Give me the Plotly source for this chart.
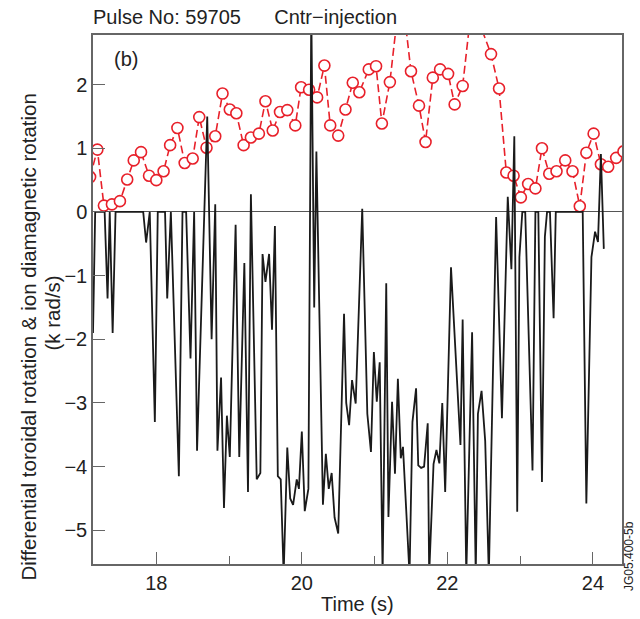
import plotly.graph_objects as go

# Red series: ion diamagnetic rotation (sampled every ~0.1 s)
red_t = [17.09, 17.19, 17.28, 17.39, 17.50, 17.60, 17.69, 17.79, 17.90, 18.00, 18.10,
         18.19, 18.29, 18.39, 18.50, 18.59, 18.69, 18.81, 18.91, 19.01, 19.10, 19.20,
         19.30, 19.41, 19.50, 19.60, 19.70, 19.80, 19.91, 19.99, 20.10, 20.21, 20.31,
         20.39, 20.50, 20.60, 20.70, 20.79, 20.92, 21.02, 21.10, 21.21, 21.31, 21.41,
         21.50, 21.61, 21.70, 21.80, 21.90, 22.01, 22.10, 22.21, 22.31, 22.43, 22.60,
         22.71, 22.81, 22.91, 23.01, 23.11, 23.21, 23.30, 23.40, 23.50, 23.62, 23.72,
         23.82, 23.91, 24.01, 24.11, 24.21, 24.32, 24.42]
red_v = [0.55, 0.98, 0.10, 0.12, 0.17, 0.51, 0.81, 0.94, 0.57, 0.50, 0.64,
         1.05, 1.32, 0.77, 0.84, 1.49, 1.01, 1.19, 1.86, 1.61, 1.55, 1.05,
         1.17, 1.23, 1.74, 1.28, 1.57, 1.60, 1.36, 1.96, 1.92, 1.80, 2.30,
         1.36, 1.20, 1.61, 2.03, 1.88, 2.24, 2.29, 1.39, 2.04, 3.05, 3.10,
         2.21, 1.67, 1.10, 2.11, 2.24, 2.17, 1.69, 1.98, 3.00, 3.00, 2.48,
         1.94, 0.62, 0.57, 0.23, 0.44, 0.37, 1.00, 0.60, 0.64, 0.81, 0.64,
         0.09, 0.93, 1.23, 0.75, 0.71, 0.85, 0.95]

# Black series: differential toroidal rotation
blk_t = [17.13, 17.16, 17.29, 17.33, 17.36, 17.40, 17.44, 17.82, 17.86, 17.91, 17.98,
         18.02, 18.12, 18.15, 18.20, 18.31, 18.36, 18.41, 18.47, 18.52, 18.56, 18.70,
         18.76, 18.81, 18.84, 18.89, 18.93, 18.97, 19.01, 19.09, 19.14, 19.21, 19.26,
         19.30, 19.38, 19.43, 19.46, 19.50, 19.55, 19.59, 19.63, 19.67, 19.71, 19.75,
         19.80, 19.84, 19.88, 19.93, 19.96, 20.00, 20.04, 20.09, 20.13, 20.17, 20.20,
         20.29, 20.33, 20.37, 20.41, 20.45, 20.50, 20.58, 20.61, 20.65, 20.69, 20.74,
         20.83, 20.90, 20.95, 20.99, 21.03, 21.07, 21.11, 21.16, 21.19, 21.24, 21.28,
         21.32, 21.36, 21.39, 21.48, 21.52, 21.57, 21.60, 21.64, 21.68, 21.73, 21.75,
         21.81, 21.85, 21.89, 21.93, 21.97, 22.05, 22.18, 22.21, 22.26, 22.34, 22.39,
         22.42, 22.47, 22.52, 22.57, 22.67, 22.75, 22.83, 22.88, 22.92, 22.96, 22.99,
         23.03, 23.07, 23.17, 23.21, 23.25, 23.30, 23.34, 23.37, 23.41, 23.46, 23.49,
         23.86, 23.91, 23.98, 24.03, 24.07, 24.11, 24.15]
blk_v = [-1.90, 0.00, 0.00, -1.36, 0.00, -1.90, 0.00, 0.00, -0.48, 0.00, -3.30,
         0.00, 0.00, -1.36, 0.00, -4.15, 0.00, 0.00, -2.30, 0.00, -3.75, 1.50,
         -2.00, 0.12, -3.75, -2.60, -4.65, -3.20, -3.85, -0.20, -3.85, -0.80, -4.40,
         0.28, -4.20, -4.10, -0.66, -1.10, -0.66, -1.85, -0.22, -4.15, -4.20, -5.70,
         -3.70, -4.50, -4.60, -4.20, -4.35, -3.45, -4.70, -4.35, 3.20, -1.50, 0.95,
         -4.60, -3.80, -4.35, -4.10, -4.80, -5.05, -1.60, -3.00, -3.35, -2.64, -3.01,
         0.05, -3.17, -3.77, -2.20, -2.98, -2.36, -5.70, -1.12, -4.79, -2.98, -4.11,
         -2.62, -3.87, -3.69, -5.70, -3.30, -2.77, -3.98, -4.02, -4.00, -3.32, -5.70,
         -3.96, -3.74, -3.95, -3.00, -4.40, -0.87, -3.66, -1.69, -5.70, -1.89, -5.70,
         -3.17, -2.81, -3.60, -5.70, -0.08, -3.24, 0.24, -0.90, 1.19, -4.71, -0.71,
         0.00, 0.00, -4.06, 0.00, 0.00, -4.24, -0.39, 0.00, 0.00, -1.67, 0.00,
         0.00, -4.58, -0.71, -0.31, -0.47, 0.91, -0.58]

x_ticks = [18, 20, 22, 24]
y_ticks = [-5, -4, -3, -2, -1, 0, 1, 2]

FONT = "Liberation Sans, Arial, sans-serif"
TXT = "#222222"

fig = go.Figure()
fig.add_trace(go.Scatter(
    x=red_t, y=red_v, mode="lines+markers",
    line=dict(color="#e8202a", width=1.6, dash="8px,4px"),
    marker=dict(symbol="circle", size=11, color="white",
                line=dict(color="#e8202a", width=1.6)),
    showlegend=False))
fig.add_trace(go.Scatter(
    x=blk_t, y=blk_v, mode="lines",
    line=dict(color="#1a1a1a", width=1.8),
    showlegend=False))

fig.update_layout(
    width=640, height=619,
    margin=dict(l=93, r=18, t=35, b=55, autoexpand=False),
    plot_bgcolor="white", paper_bgcolor="white",
    font=dict(family=FONT, size=20, color=TXT),
    xaxis=dict(range=[17.13, 24.40], tickvals=x_ticks, ticks="inside", ticklen=12,
               tickcolor="#666", tickwidth=1.2, automargin=False,
               tickfont=dict(size=20),
               minor=dict(tickvals=[19, 21, 23], ticks="inside", ticklen=8,
                          tickcolor="#666", tickwidth=1.2),
               showline=True, mirror=True, linecolor="#666", linewidth=1.5,
               showgrid=False, zeroline=False),
    yaxis=dict(range=[-5.53, 2.78], tickvals=y_ticks, ticks="inside", ticklen=12,
               tickcolor="#666", tickwidth=1.2, automargin=False,
               tickfont=dict(size=20),
               showline=True, mirror=True, linecolor="#666", linewidth=1.5,
               showgrid=False, zeroline=True, zerolinecolor="#555", zerolinewidth=1.2),
)

# x-axis title
fig.add_annotation(text="Time (s)", xref="paper", yref="paper", x=0.5, y=0,
                   xanchor="center", yanchor="middle", yshift=-40,
                   showarrow=False, font=dict(size=20))
# y-axis title (two lines, rotated)
fig.add_annotation(text="Differential toroidal rotation & ion diamagnetic rotation",
                   xref="paper", yref="paper", x=0, y=0.5, xanchor="center", yanchor="middle",
                   xshift=-65, yshift=-38, textangle=-90, showarrow=False,
                   font=dict(size=20.5))
fig.add_annotation(text="(k rad/s)",
                   xref="paper", yref="paper", x=0, y=0.5, xanchor="center", yanchor="middle",
                   xshift=-41, yshift=-14, textangle=-90, showarrow=False,
                   font=dict(size=20.5))

fig.add_annotation(text="Pulse No: 59705" + "\u00a0" * 6 + "Cntr\u2212injection",
                   xref="paper", yref="paper",
                   x=0.0, y=1.0, xanchor="left", yanchor="bottom", yshift=5, xshift=-2,
                   showarrow=False, font=dict(size=20))
fig.add_annotation(text="(b)", xref="paper", yref="paper", x=0.035, y=0.98,
                   xanchor="left", yanchor="top", showarrow=False, font=dict(size=20))
fig.add_annotation(text="JG05.400-5b", xref="paper", yref="paper", x=1.0, y=0.0,
                   xanchor="center", yanchor="middle", xshift=7, yshift=8, textangle=-90,
                   showarrow=False, font=dict(size=12))

fig.write_html("out.html", config={"displayModeBar": False},
               post_script="document.body.style.margin='0';document.body.style.overflow='hidden';")
